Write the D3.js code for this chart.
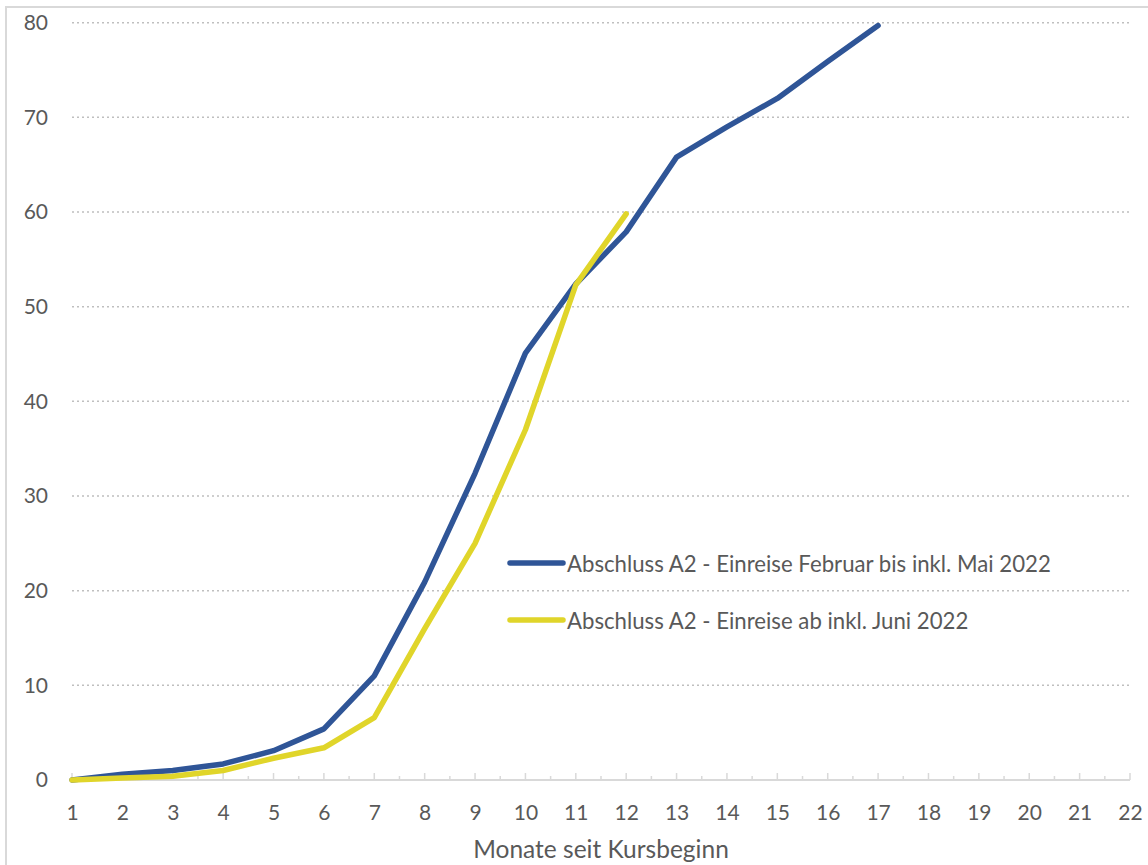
<!DOCTYPE html>
<html>
<head>
<meta charset="utf-8">
<script src="https://cdn.jsdelivr.net/npm/d3@7"></script>
<style>
  html, body { margin: 0; padding: 0; background: #fff; }
  svg { display: block; }
  text { font-family: Lato, "Open Sans", sans-serif; fill: #595959; }
</style>
</head>
<body>
<svg id="chart" width="1148" height="865"></svg>
<script>
// ---- data ----
const months = d3.range(1, 23);               // x categories 1..22
const yTicks = [0, 10, 20, 30, 40, 50, 60, 70, 80];
const seriesNames = [
  "Abschluss A2 - Einreise Februar bis inkl. Mai 2022",
  "Abschluss A2 - Einreise ab inkl. Juni 2022"
];
const blueValues = [0, 0.6, 1.0, 1.7, 3.1, 5.4, 11.0, 20.9, 32.4, 45.1, 52.4, 57.9, 65.8, 69.0, 72.0, 75.9, 79.7];
const yellowValues = [0, 0.2, 0.4, 1.0, 2.3, 3.4, 6.6, 16.0, 25.0, 37.0, 52.3, 59.8];
const xTitle = "Monate seit Kursbeginn";

// ---- layout ----
const W = 1148, H = 865;
const margin = { left: 72, right: 18, top: 22.7, bottom: 85 };
const svg = d3.select("#chart");

const x = d3.scaleLinear().domain([1, 22]).range([margin.left, W - margin.right]);
const y = d3.scaleLinear().domain([0, 80]).range([H - margin.bottom, margin.top]);

// outer border (chart area frame)
svg.append("rect")
  .attr("x", 6).attr("y", 7)
  .attr("width", W + 10).attr("height", H + 10)
  .attr("fill", "none").attr("stroke", "#d9d9d9").attr("stroke-width", 2);

// gridlines
svg.append("g")
  .selectAll("line")
  .data(yTicks.filter(d => d > 0))
  .join("line")
  .attr("x1", x(1)).attr("x2", x(22))
  .attr("y1", d => y(d)).attr("y2", d => y(d))
  .attr("stroke", "#bfbfbf").attr("stroke-width", 1.5)
  .attr("stroke-dasharray", "2,3");

// y axis labels
const yAxis = d3.axisLeft(y).tickValues(yTicks).tickSize(0).tickPadding(0);
const gy = svg.append("g").attr("transform", `translate(${margin.left - 24},0)`).call(yAxis);
gy.select(".domain").remove();
gy.selectAll("text").attr("font-size", 21).style("fill", "#595959")
  .style("font-family", "Lato, 'Open Sans', sans-serif");

// x axis
const gx = svg.append("g").attr("transform", `translate(0,${y(0)})`);
gx.call(d3.axisBottom(x).tickValues(months).tickFormat(d3.format("d")).tickSize(0).tickPadding(0));
gx.select(".domain").remove();
gx.selectAll("text").attr("font-size", 21).attr("dy", "1.9em").style("fill", "#595959")
  .style("font-family", "Lato, 'Open Sans', sans-serif");
// axis line
gx.append("line").attr("x1", x(1)).attr("x2", x(22)).attr("y1", 0).attr("y2", 0)
  .attr("stroke", "#d9d9d9").attr("stroke-width", 2);
// major ticks (upwards)
gx.append("g").selectAll("line").data(months).join("line")
  .attr("x1", d => x(d)).attr("x2", d => x(d)).attr("y1", 0).attr("y2", -7)
  .attr("stroke", "#d9d9d9").attr("stroke-width", 1.5);
// minor ticks
gx.append("g").selectAll("line").data(months.slice(0, -1).map(d => d + 0.5)).join("line")
  .attr("x1", d => x(d)).attr("x2", d => x(d)).attr("y1", 0).attr("y2", -4)
  .attr("stroke", "#d9d9d9").attr("stroke-width", 1.5);

// x title
svg.append("text")
  .attr("x", (x(1) + x(22)) / 2).attr("y", 858)
  .attr("text-anchor", "middle").attr("font-size", 24.5)
  .text(xTitle);

// lines
const line = d3.line().x((d, i) => x(i + 1)).y(d => y(d));
const colors = ["#2f5597", "#e0d52a"];
[blueValues, yellowValues].forEach((vals, k) => {
  svg.append("path")
    .datum(vals)
    .attr("d", line)
    .attr("fill", "none")
    .attr("stroke", colors[k])
    .attr("stroke-width", 5.5)
    .attr("stroke-linejoin", "round")
    .attr("stroke-linecap", "round");
});

// legend
const legend = svg.append("g");
seriesNames.forEach((name, k) => {
  const ly = 563 + k * 57;
  legend.append("line")
    .attr("x1", 510).attr("x2", 563).attr("y1", ly).attr("y2", ly)
    .attr("stroke", colors[k]).attr("stroke-width", 5.5).attr("stroke-linecap", "round");
  legend.append("text")
    .attr("x", 567).attr("y", ly + 8.5)
    .attr("font-size", 22.2)
    .text(name);
});
</script>
</body>
</html>
